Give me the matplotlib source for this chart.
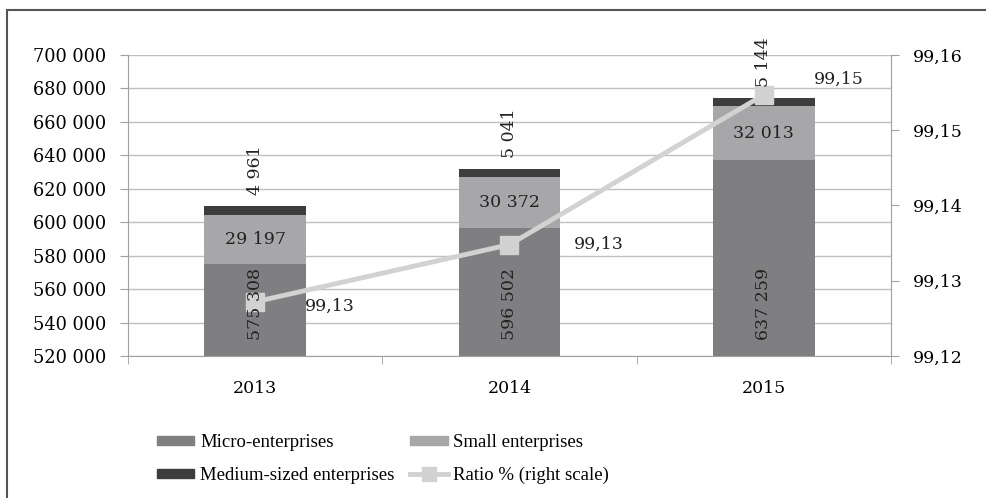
import matplotlib.pyplot as plt
from matplotlib.patches import Rectangle
from matplotlib.lines import Line2D
from matplotlib.patches import Patch

years = ['2013', '2014', '2015']
micro = [575308, 596502, 637259]
small = [29197, 30372, 32013]
medium = [4961, 5041, 5144]
ratio = [99.1272, 99.1348, 99.1547]

c_micro = '#7f7f81'
c_small = '#a7a7a9'
c_medium = '#3d3d3d'
c_line = '#d2d2d2'

plt.rcParams['font.family'] = 'DejaVu Serif'


def fmt(v):
    return f'{v:,}'.replace(',', ' ')


fig = plt.figure(figsize=(9.87, 4.98), dpi=100)
ax = fig.add_axes([0.1297, 0.2851, 0.7730, 0.6045])

x = list(range(len(years)))
base = 520000
micro_h = [m - base for m in micro]
small_b = micro
medium_b = [m + s for m, s in zip(micro, small)]

ax.bar(x, micro_h, bottom=base, width=0.4, color=c_micro, zorder=2)
ax.bar(x, small, bottom=small_b, width=0.4, color=c_small, zorder=2)
ax.bar(x, medium, bottom=medium_b, width=0.4, color=c_medium, zorder=2)

ax.set_xlim(-0.5, 2.5)
ax.set_ylim(520000, 700000)
ax.set_yticks(range(520000, 700001, 20000))
ax.set_yticklabels([fmt(v) for v in range(520000, 700001, 20000)], fontsize=12.8)
ax.set_xticks(x)
ax.set_xticklabels(years, fontsize=12.5)
ax.set_xticks([-0.5, 0.5, 1.5, 2.5], minor=True)
ax.tick_params(axis='x', which='major', length=0, pad=17)
ax.tick_params(axis='x', which='minor', length=6, color='#a0a0a0')
ax.tick_params(axis='y', length=6, color='#a0a0a0', pad=10)
ax.grid(axis='y', color='#c0c0c0', linewidth=1, zorder=0)
for s in ['top', 'right']:
    ax.spines[s].set_visible(False)
for s in ['left', 'bottom']:
    ax.spines[s].set_color('#a0a0a0')

ax2 = ax.twinx()
ax2.plot(x, ratio, color=c_line, linewidth=3.5, marker='s', markersize=13,
         markerfacecolor=c_line, markeredgecolor=c_line, zorder=3)
ax2.set_ylim(99.12, 99.16)
rt = [99.12, 99.13, 99.14, 99.15, 99.16]
ax2.set_yticks(rt)
ax2.set_yticklabels([f'{v:.2f}'.replace('.', ',') for v in rt], fontsize=12.5)
ax2.tick_params(axis='y', length=6, color='#a0a0a0', pad=10)
for s in ['top', 'left', 'bottom']:
    ax2.spines[s].set_visible(False)
ax2.spines['right'].set_color('#a0a0a0')

# bar labels drawn above the line
for i in x:
    ax2.text(i, 551000, fmt(micro[i]), transform=ax.transData, rotation=90,
             ha='center', va='center', fontsize=12.5, color='#222222', zorder=5)
    ax2.text(i, small_b[i] + small[i] / 2, fmt(small[i]), transform=ax.transData,
             ha='center', va='center', fontsize=12.5, color='#222222', zorder=5)
    ax2.annotate(fmt(medium[i]), (i, medium_b[i] + medium[i]), xycoords=ax.transData,
                 xytext=(0, 8), textcoords='offset points', rotation=90,
                 ha='center', va='bottom', fontsize=12.5, color='#222222', zorder=5)

offsets = [(36, -3), (46, 0), (36, 11)]
for i in x:
    ax2.annotate(f'{ratio[i]:.2f}'.replace('.', ','), (i, ratio[i]),
                 xytext=offsets[i], textcoords='offset points',
                 ha='left', va='center', fontsize=12.5, color='#222222', zorder=5)

handles = [
    Patch(color=c_micro, label='Micro-enterprises'),
    Patch(color=c_medium, label='Medium-sized enterprises'),
    Patch(color=c_small, label='Small enterprises'),
    Line2D([], [], color=c_line, linewidth=3.5, marker='s', markersize=10,
           label='Ratio % (right scale)'),
]
fig.legend(handles=handles, ncol=2, loc='center left', bbox_to_anchor=(0.159, 0.078),
           frameon=False, prop={'family': 'Liberation Serif', 'size': 13.5},
           handlelength=2.0, handleheight=0.4, handletextpad=0.3,
           columnspacing=0.85, labelspacing=0.85, borderpad=0, borderaxespad=0)

fig.add_artist(Rectangle((7 / 987, -0.1), 1.2, 1 - 10 / 498 + 0.1, transform=fig.transFigure,
                         fill=False, edgecolor='#555555', linewidth=1.5))

fig.savefig('out.png', dpi=100)
